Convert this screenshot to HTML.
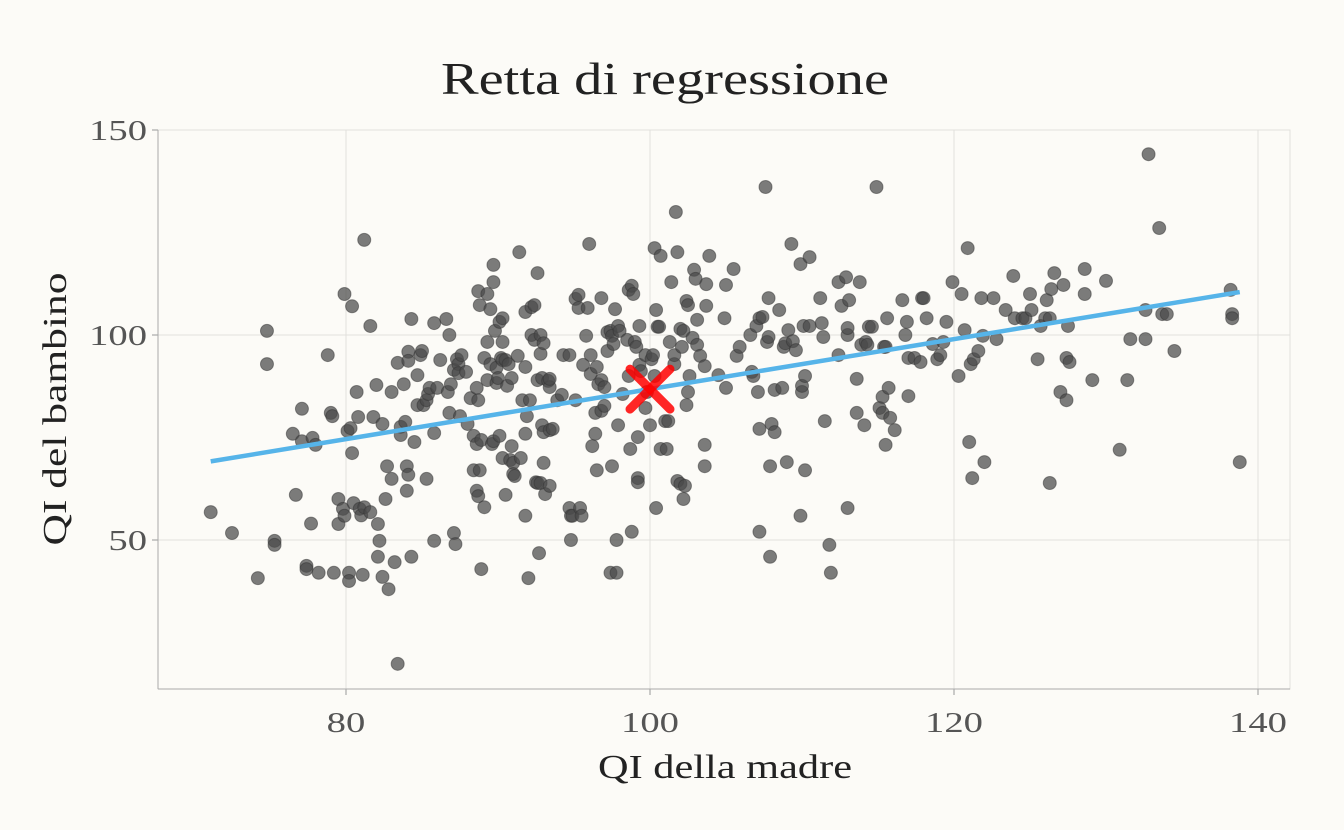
<!DOCTYPE html>
<html><head><meta charset="utf-8">
<style>
html,body{margin:0;padding:0;background:#fcfbf7;}
svg{display:block;font-family:"Liberation Serif",serif;}
</style></head>
<body>
<svg id="chart" width="1344" height="830" viewBox="0 0 1344 830">
<rect width="1344" height="830" fill="#fcfbf7"/>
<text x="665" y="94" text-anchor="middle" font-size="46" textLength="448" lengthAdjust="spacingAndGlyphs" fill="#222">Retta di regressione</text>
<g id="grid"></g>
<g id="axes"></g>
<g id="points"></g>
<g id="reg"></g>
<g id="mean"></g>
<text x="725" y="778" text-anchor="middle" font-size="34" textLength="254" lengthAdjust="spacingAndGlyphs" fill="#222">QI della madre</text>
<text transform="translate(66,409) rotate(-90)" text-anchor="middle" font-size="34" textLength="273" lengthAdjust="spacingAndGlyphs" fill="#222">QI del bambino</text>
</svg>
<script>
const xTicks=[80,100,120,140];
const yTicks=[50,100,150];
const momIQ=[71.1,72.5,74.2,74.8,74.8,75.3,75.3,76.5,76.7,77.1,77.1,77.4,77.4,77.8,77.7,78,78.2,78.8,79,79.1,79.2,79.5,79.5,79.9,79.8,79.9,80.1,80.3,80.2,80.2,80.4,80.4,80.5,80.7,80.8,80.9,81.1,81.2,81,81.2,81.6,81.6,81.8,82,82.1,82.1,82.2,82.4,82.4,82.7,82.6,82.8,83,83,83.2,83.4,83.4,83.6,83.6,83.8,83.9,84,84,84.1,84.1,84.1,84.3,84.3,84.5,84.7,84.7,84.9,85,85.1,85.3,85.4,85.5,85.3,85.8,85.8,85.8,86,86.2,86.6,86.7,86.8,86.8,86.9,87.1,87.1,87.2,87.3,87.4,87.4,87.5,87.6,87.9,88,88.2,88.4,88.4,88.6,88.6,88.6,88.7,88.7,88.7,88.8,88.8,88.9,88.9,89.1,89.1,89.3,89.3,89.3,89.5,89.5,89.6,89.7,89.7,89.7,89.8,89.9,89.9,90,90.1,90.1,90.2,90.3,90.5,90.3,90.3,90.3,90.5,90.6,90.7,90.8,90.9,90.9,91,91,91.1,91.3,91.4,91.5,91.6,91.8,91.8,91.8,91.8,91.9,92,92.1,92.2,92.2,92.4,92.4,92.5,92.6,92.8,92.6,92.6,92.7,92.8,92.8,92.9,92.9,93,93,93,93.1,93.3,93.4,93.4,93.4,93.4,93.6,93.9,94.2,94.3,94.7,94.8,94.7,94.8,94.9,95.1,95.1,95.3,95.3,95.4,95.5,95.6,95.8,95.9,96,96.1,96.1,96.2,96.4,96.4,96.5,96.5,96.6,96.8,96.8,96.8,97,97,97.2,97.2,97.4,97.5,97.4,97.5,97.7,97.6,97.8,97.8,97.9,97.9,98,98.2,98.5,98.6,98.6,98.7,98.8,98.8,98.9,99,99.1,99.2,99.2,99.2,99.3,99.3,99.4,99.7,99.7,99.8,100,100.1,100.2,100.3,100.3,100.4,100.4,100.5,100.6,100.7,100.7,101,101.2,101.1,101.3,101.4,101.6,101.6,101.7,101.8,101.8,102,102,102.2,102.1,102.2,102.3,102.4,102.5,102.4,102.5,102.6,102.8,102.9,103,103.1,103.1,103.3,103.6,103.6,103.6,103.7,103.7,103.9,104.5,104.9,105,105,105.5,105.7,105.9,106.6,106.7,106.8,107,107.1,107.2,107.4,107.2,107.2,107.6,107.7,107.8,107.8,107.9,107.9,108,108.2,108.2,108.5,108.7,108.8,108.9,109,109.1,109.3,109.4,109.6,109.9,109.9,110,110,110.1,110.2,110.2,110.5,110.5,111.2,111.3,111.4,111.5,111.8,111.9,112.4,112.4,112.6,112.9,113,113,113,113.1,113.6,113.6,113.8,113.9,114.2,114.3,114.1,114.4,114.6,114.9,115.1,115.3,115.4,115.5,115.3,115.5,115.6,115.7,115.8,116.1,116.6,116.8,116.9,117,117,117.4,117.8,117.9,118,118.2,118.6,118.9,119.1,119.3,119.5,119.9,120.3,120.5,120.7,120.9,121,121.1,121.2,121.3,121.6,121.8,121.9,122,122.6,122.8,123.4,123.9,124,124.5,124.7,125,125.1,125.5,125.7,126,126.3,126.1,126.3,126.4,126.6,127,127.2,127.4,127.4,127.6,127.5,128.6,128.6,129.1,130,130.9,131.4,131.6,132.6,132.6,132.8,133.5,133.7,134,134.5,138.2,138.3,138.3,138.8];
const kidIQ=[56.8,51.7,40.7,101,92.9,49.8,48.8,75.9,61,82,74.1,43.7,42.9,74.9,54,73.2,42,95.1,81,80.2,42,60,53.9,110,57.6,55.9,76.6,77.3,42,40,107,71.2,59,86.1,80,57.6,41.5,123.2,56,58,56.8,102.2,80,87.8,53.9,45.9,49.8,78.3,41,68,60,38,64.9,86.1,44.6,93.2,19.8,77.6,75.6,88,78.8,62,68,65.9,95.9,93.7,103.9,45.9,73.9,90.2,82.9,95.1,96.1,82.9,84.1,85.6,87.1,64.9,102.9,76.1,49.8,87.1,93.9,103.9,86.1,81,100,88,91.5,51.7,49,94.1,92.9,90.7,80.2,95.1,91,78.3,84.6,67,75.4,73.4,87.1,62,60.7,84.1,110.7,107.3,67,42.9,74.4,94.4,58,110,98.3,89,106.3,92.9,73.4,74.1,112.9,117.1,101,92,88.3,89.5,103.2,75.4,94.4,93.9,93.9,104.1,98.3,70,61,87.6,92.9,69.5,72.9,89.5,68.8,66.1,65.6,94.9,120.2,70,84.1,75.9,105.6,92.2,55.9,80.2,40.7,84.1,106.8,100,107.3,98.8,64.1,63.9,63.9,89,115.1,46.8,100,95.4,78,89.5,98,76.3,68.8,61.2,88.8,87.3,63.2,89.3,76.8,77.1,84.1,85.4,95.1,95.1,50,57.8,55.9,55.9,108.8,84.1,106.6,109.8,57.8,55.9,92.7,99.8,106.6,122.2,95.1,90.5,72.9,81,75.9,92.2,67,88,89,81.5,109,82.7,87.3,100.7,96.1,101,99.8,42,68,106.3,97.8,42,50,78,102.2,101,85.6,98.8,90,111,72.2,52,112,110,98.3,97.1,65.1,64.1,75.1,102.2,92.7,91.2,95.1,82.2,86.1,78,94.1,95.1,90,121.2,106.1,57.8,102,102,119.3,72.2,79,79,72.2,98.3,112.9,92.9,95.1,130,120.2,64.4,63.7,101.5,101,97.1,60,63.2,108.3,107.3,82.9,86.1,90,99.3,115.9,113.7,97.6,103.7,94.9,68,73.2,92.4,112.4,107.1,119.3,90.2,104.1,87.1,112.2,116.1,94.9,97.1,100,91,90,102.2,86.1,104.1,104.4,52,77.1,136.1,98.3,109,99.5,45.9,68,78.3,76.3,86.6,106.1,87.1,97.1,98,69,101.2,122.2,98.5,96.3,117.3,55.9,86.1,87.6,102.2,90,67,119,102.2,109,102.9,99.5,79,48.8,42,95.1,112.9,107.1,114.1,100,101.7,57.8,108.5,89.3,81,112.9,97.6,98.3,97.6,78,102,102,136.1,82.2,81,97.1,97.1,84.9,73.2,104.1,87.1,79.8,76.8,108.5,100,103.2,85.1,94.4,94.4,93.4,109,109,104.1,97.8,94.1,95.1,98.3,103.2,112.9,90,110,101.2,121.2,73.9,92.9,65.1,94.1,96.1,109,99.8,69,109,99,106.1,114.4,104.1,104.1,104.1,110,106.1,94.1,102.2,104.1,104.1,108.5,63.9,111.2,115.1,86.1,112.2,84.1,94.4,93.4,102.2,116.1,110,89,113.2,72,89,99,99,106.1,144.1,126.1,105.1,105.1,96.1,111,105.1,104.1,69];
const regIntercept=[25.8];
const regSlope=[0.61];
const meanPoint=[100,86.8];

const NS="http://www.w3.org/2000/svg";
const L=158,R=1290,T=130,B=689;
function sx(v){return 346+(v-80)*15.2;}
function sy(v){return 335-(v-100)*4.1;}
function mk(tag,attrs,parent){const e=document.createElementNS(NS,tag);for(const k in attrs)e.setAttribute(k,attrs[k]);parent.appendChild(e);return e;}
const grid=document.getElementById('grid'),axes=document.getElementById('axes');
xTicks.forEach(t=>{
  const g=mk('line',{x1:sx(t),x2:sx(t),y1:T,y2:B,stroke:'#e2e0dc','stroke-width':1},grid);
  
  
  const tk=mk('line',{x1:sx(t),x2:sx(t),y1:B,y2:B+6,stroke:'#999','stroke-width':1},axes);
  
  
  const s=String(t);
  const lb=mk('text',{x:sx(t),y:B+43,'text-anchor':'middle','font-size':29,fill:'#555',textLength:s.length*19.3,lengthAdjust:'spacingAndGlyphs'},axes);
  lb.textContent=s;
  
  
});
yTicks.forEach(t=>{
  const g=mk('line',{x1:L,x2:R,y1:sy(t),y2:sy(t),stroke:'#e2e0dc','stroke-width':1},grid);
  
  
  const tk=mk('line',{x1:L-6,x2:L,y1:sy(t),y2:sy(t),stroke:'#999','stroke-width':1},axes);
  
  
  const s=String(t);
  const lb=mk('text',{x:L-11,y:sy(t)+10,'text-anchor':'end','font-size':29,fill:'#555',textLength:s.length*19.3,lengthAdjust:'spacingAndGlyphs'},axes);
  lb.textContent=s;
  
  
});
const rg=mk('rect',{x:L,y:T,width:R-L,height:B-T,fill:'none',stroke:'#e2e0dc'},grid);


const ax1=mk('line',{x1:L,x2:L,y1:T,y2:B,stroke:'#aaa'},axes);


const ax2=mk('line',{x1:L,x2:R,y1:B,y2:B,stroke:'#aaa'},axes);



const pts=document.getElementById('points');
momIQ.forEach((x,i)=>{
  const c=mk('circle',{cx:sx(x),cy:sy(kidIQ[i]),r:6.5,fill:'#4a4a4a','fill-opacity':0.72,stroke:'#333','stroke-opacity':0.5,'stroke-width':1},pts);
  
  
});
const xmin=Math.min(...momIQ),xmax=Math.max(...momIQ);
const reg=document.getElementById('reg');
const rl=mk('line',{x1:sx(xmin),y1:sy(regIntercept[0]+regSlope[0]*xmin),x2:sx(xmax),y2:sy(regIntercept[0]+regSlope[0]*xmax),stroke:'#56b4e9','stroke-width':4.5},reg);


const mg=document.getElementById('mean');
const mx=sx(meanPoint[0]),my=sy(meanPoint[1]),d=20;
[[mx-d,my-d,mx+d,my+d],[mx-d,my+d,mx+d,my-d]].forEach(a=>{
  const l=mk('line',{x1:a[0],y1:a[1],x2:a[2],y2:a[3],stroke:'#ff0000','stroke-opacity':0.85,'stroke-width':9,'stroke-linecap':'round'},mg);
  
  
});
</script>
</body></html>
